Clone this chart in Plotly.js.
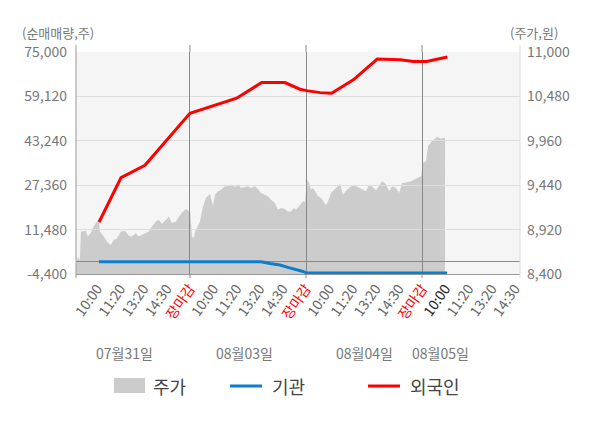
<!DOCTYPE html>
<html>
<head>
<meta charset="utf-8">
<script src="https://cdn.plot.ly/plotly-3.0.1.min.js"></script>
<style>html,body{margin:0;padding:0;background:#fff;}#chart{width:600px;height:428px;}</style>
</head>
<body>
<div id="chart"></div>
<script>
// ---- data ----
const timeLabels = ['10:00', '11:20', '13:20', '14:30', '장마감'];
const dayLabels = ['07월31일', '08월03일', '08월04일', '08월05일'];
const leftTicks = [-4400, 11480, 27360, 43240, 59120, 75000];
const rightTicks = [8400, 8920, 9440, 9960, 10480, 11000];

// price (주가, 원) — x is position on the session time axis (10 units per label step)
const priceX = [0.9,1.7,2.6,3.0,5.2,6.0,7.3,8.6,9.9,10.8,
  11.2,12.9,14.2,15.9,17.2,18.5,20.3,22.0,23.7,25.0,
  26.7,28.0,29.3,31.0,32.3,33.6,35.3,36.6,37.9,39.7,
  40.9,42.2,44.0,45.3,46.6,48.3,49.6,50.0,50.4,50.9,
  51.7,52.2,53.0,54.3,55.6,56.9,58.6,59.5,59.9,60.8,
  62.1,63.4,65.1,66.4,67.7,69.4,70.7,72.0,73.7,75.0,
  76.3,78.0,79.3,80.6,82.3,83.6,84.9,86.6,87.9,89.2,
  90.9,92.2,93.5,94.8,95.7,97.4,98.7,99.6,100.4,101.3,
  102.2,103.0,104.3,105.2,106.5,107.3,108.6,109.5,110.8,112.1,
  113.4,114.7,115.9,117.2,118.5,119.8,121.6,122.8,124.1,125.9,
  127.2,128.4,130.2,131.5,132.8,134.5,135.8,137.1,138.8,140.1,
  141.4,143.5,145.3,146.6,147.8,149.6,150.4,151.7,152.6,153.9,
  155.2,156.5,157.3,158.2,159.1,159.9];
const price = [8494,8600,8565,8898,8906,8840,8882,8960,9015,9000,
  8898,8840,8780,8740,8800,8812,8898,8906,8847,8840,
  8878,8840,8859,8878,8898,8957,9015,9035,8988,9035,
  9074,8997,9015,9074,9121,9161,9133,9153,9015,8840,
  8823,8898,8938,9015,9192,9290,9341,9251,9200,9329,
  9368,9388,9427,9427,9447,9420,9447,9408,9420,9427,
  9408,9427,9396,9349,9329,9310,9271,9232,9153,9173,
  9161,9133,9133,9173,9153,9212,9251,9239,9506,9467,
  9388,9408,9349,9310,9290,9251,9204,9251,9349,9388,
  9427,9455,9329,9376,9408,9435,9427,9408,9388,9368,
  9447,9427,9380,9427,9486,9447,9368,9427,9408,9349,
  9467,9474,9486,9506,9525,9545,9702,9721,9898,9945,
  9976,10008,9996,9984,9996,9990];

// 외국인 net buying (주)
const foreignX = [10.8,20.3,30.6,50,70.1,80.9,90.9,97.4,100.3,106,111,120.4,130.7,140.5,146.3,152,160.9];
const foreignV = [14120,30070,34490,53070,58460,64060,64060,61690,61190,60470,60260,65030,72470,72220,71610,71610,73190];

// 기관 net buying (주)
const instX = [10.8,80.6,84.5,88.8,92.2,95.7,98.7,100.4,160.8];
const instV = [0,0,-610,-1190,-2050,-2770,-3490,-4060,-4060];

// ---- build ----
const fmt = v => (v < 0 ? '-' : '') + Math.abs(v).toLocaleString('en-US');
const tickVals = [], tickText = [];
for (let d = 0; d < 4; d++) {
  timeLabels.forEach((t, i) => {
    const v = (d * 5 + i + 1) * 10;
    if (v > 190) return;
    tickVals.push(v);
    if (t === '장마감') tickText.push('<span style="color:#ff0000">' + t + '</span>');
    else if (d === 3 && i === 0) tickText.push('<span style="color:#222">' + t + '</span>');
    else tickText.push(t);
  });
}
const XR = [0.9, 192.2];
const FONT = "'Noto Sans CJK KR', 'Noto Sans', sans-serif";
const gray = '#777';

const traces = [
  {x: priceX, y: price, xaxis: 'x', yaxis: 'y', type: 'scatter', mode: 'lines',
   fill: 'tozeroy', fillcolor: '#cccccc', line: {width: 0, color: '#cccccc'}, name: '주가', hoverinfo: 'skip'},
  {x: instX, y: instV, xaxis: 'x2', yaxis: 'y2', type: 'scatter', mode: 'lines',
   line: {width: 3, color: '#0a7fcf'}, name: '기관'},
  {x: foreignX, y: foreignV, xaxis: 'x2', yaxis: 'y2', type: 'scatter', mode: 'lines',
   line: {width: 3, color: '#ff0000'}, name: '외국인'}
];

const dayPos = [22, 73.7, 125.4, 157.8];
const annotations = dayLabels.map((t, i) => ({
  text: t, x: dayPos[i], xref: 'x', y: -0.356, yref: 'paper', showarrow: false,
  xanchor: 'center', yanchor: 'middle', font: {size: 14, color: gray, family: FONT}
}));
annotations.push(
  {text: '(순매매량,주)', x: -0.1261, xref: 'paper', y: 1.0856, yref: 'paper', showarrow: false,
   xanchor: 'left', yanchor: 'middle', font: {size: 13, color: gray, family: FONT}},
  {text: '(주가,원)', x: 0.973, xref: 'paper', y: 1.0856, yref: 'paper', showarrow: false,
   xanchor: 'left', yanchor: 'middle', font: {size: 13, color: gray, family: FONT}},
  {text: '주가', x: 0.1689, xref: 'paper', y: -0.5045, yref: 'paper', showarrow: false,
   xanchor: 'left', yanchor: 'middle', font: {size: 18, color: '#444', family: FONT}},
  {text: '기관', x: 0.4369, xref: 'paper', y: -0.5045, yref: 'paper', showarrow: false,
   xanchor: 'left', yanchor: 'middle', font: {size: 18, color: '#444', family: FONT}},
  {text: '외국인', x: 0.7477, xref: 'paper', y: -0.5045, yref: 'paper', showarrow: false,
   xanchor: 'left', yanchor: 'middle', font: {size: 18, color: '#444', family: FONT}}
);

const shapes = [
  // plot background
  {type: 'rect', xref: 'paper', yref: 'paper', x0: 0, x1: 1, y0: 0, y1: 1,
   fillcolor: '#f5f5f5', line: {width: 0}, layer: 'below'},
  // left / right axis lines (extended)
  {type: 'line', xref: 'paper', yref: 'paper', x0: 0, x1: 0, y0: -0.018, y1: 1.0315,
   line: {color: '#999', width: 1}, layer: 'above'},
  {type: 'line', xref: 'paper', yref: 'paper', x0: 1, x1: 1, y0: -0.018, y1: 1.0315,
   line: {color: '#dddddd', width: 1}, layer: 'above'},
  // legend symbols
  {type: 'rect', xref: 'paper', yref: 'paper', x0: 0.0856, x1: 0.1554, y0: -0.536, y1: -0.4685,
   fillcolor: '#cccccc', line: {width: 0}},
  {type: 'line', xref: 'paper', yref: 'paper', x0: 0.3468, x1: 0.4189, y0: -0.5045, y1: -0.5045,
   line: {color: '#0a7fcf', width: 3}},
  {type: 'line', xref: 'paper', yref: 'paper', x0: 0.6577, x1: 0.7297, y0: -0.5045, y1: -0.5045,
   line: {color: '#ff0000', width: 3}}
];
[50, 100, 150].forEach(v => {
  shapes.push({type: 'line', xref: 'x', yref: 'paper', x0: v, x1: v, y0: 1, y1: 1.0315,
    line: {color: '#888', width: 1}});
  shapes.push({type: 'line', xref: 'x', yref: 'paper', x0: v, x1: v, y0: -0.018, y1: 0,
    line: {color: '#888', width: 1}});
});

const layout = {
  width: 600, height: 428,
  margin: {l: 76, r: 80, t: 52, b: 154},
  paper_bgcolor: '#ffffff', plot_bgcolor: 'rgba(0,0,0,0)',
  font: {family: FONT, size: 14, color: gray},
  showlegend: false,
  xaxis: {range: XR, domain: [0, 1], anchor: 'y', tickvals: tickVals, ticktext: tickText,
    tickangle: -55, showgrid: false, zeroline: false, showline: true, linecolor: '#999',
    ticks: '', tickfont: {size: 14, color: '#666', family: FONT}, fixedrange: true},
  yaxis: {range: [8400, 11000], domain: [0, 1], anchor: 'x', side: 'right',
    tickvals: rightTicks, ticktext: rightTicks.map(fmt), showgrid: false, zeroline: false,
    showline: false, ticks: '', ticklabelstandoff: 6, tickfont: {size: 14, color: gray, family: FONT}},
  xaxis2: {range: XR, domain: [0, 1], anchor: 'y2', tickvals: [50, 100, 150], showticklabels: false,
    showgrid: true, gridcolor: '#888', gridwidth: 1, zeroline: false, showline: false, ticks: ''},
  yaxis2: {range: [-4400, 75000], domain: [0, 1], anchor: 'x2', side: 'left',
    tickvals: leftTicks, ticktext: leftTicks.map(fmt), showgrid: false,
    minor: {tickvals: leftTicks.slice(1, -1), showgrid: true, gridcolor: '#dddddd', gridwidth: 1, ticks: ''},
    zeroline: true, zerolinecolor: '#888', zerolinewidth: 1, showline: false, ticks: '',
    ticklabelstandoff: 8, tickfont: {size: 14, color: gray, family: FONT}},
  shapes: shapes,
  annotations: annotations
};

Plotly.newPlot('chart', traces, layout, {staticPlot: true, displayModeBar: false});
</script>
</body>
</html>
